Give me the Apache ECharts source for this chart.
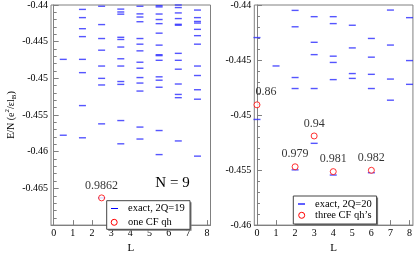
<!DOCTYPE html>
<html><head><meta charset="utf-8">
<script src="https://cdn.jsdelivr.net/npm/echarts@6/dist/echarts.min.js"></script>
<style>html,body{margin:0;padding:0;background:#fff}#c{width:415px;height:259px}</style>
</head><body><div id="c"></div>
<script>
// Left panel: N=9, 2Q=19 (half-integer L)
const L19 = [0.5, 1.5, 2.5, 3.5, 4.5, 5.5, 6.5, 7.5];
const exact19 = [
  [-0.44741, -0.45775],
  [-0.44060, -0.44172, -0.44323, -0.44431, -0.44741, -0.44922, -0.45371, -0.45810],
  [-0.44017, -0.44267, -0.44457, -0.44616, -0.44832, -0.45000, -0.45090, -0.45620, -0.46629],
  [-0.44056, -0.44095, -0.44125, -0.44440, -0.44470, -0.44573, -0.44733, -0.44832, -0.45043, -0.45082, -0.45575, -0.45892],
  [-0.44017, -0.44121, -0.44164, -0.44228, -0.44457, -0.44534, -0.44625, -0.44780, -0.44862, -0.44989, -0.45064, -0.45173, -0.45664, -0.45827],
  [-0.44009, -0.44026, -0.44123, -0.44198, -0.44254, -0.44384, -0.44547, -0.44677, -0.44690, -0.44754, -0.44979, -0.45025, -0.45121, -0.45711, -0.46039],
  [-0.44000, -0.44035, -0.44108, -0.44185, -0.44263, -0.44276, -0.44659, -0.44754, -0.44875, -0.45077, -0.45219, -0.45263, -0.45853],
  [-0.44069, -0.44172, -0.44224, -0.44246, -0.44332, -0.44418, -0.44534, -0.44832, -0.44961, -0.45155, -0.45284, -0.46060]
];
const cfL19 = [2.5];
const cfE19 = [-0.46629];
const cfLabel19 = ['0.9862'];

// Right panel: 2Q=20 (integer L)
const L20 = [0, 1, 2, 3, 4, 5, 6, 7, 8];
const exact20 = [
  [-0.44296, -0.45040],
  [-0.44554],
  [-0.44049, -0.44198, -0.44659, -0.44759, -0.45498],
  [-0.44106, -0.44339, -0.44451, -0.44759, -0.45257],
  [-0.44106, -0.44169, -0.44465, -0.44522, -0.44678, -0.45545],
  [-0.44184, -0.44390, -0.44623, -0.44667],
  [-0.44304, -0.44474, -0.44630, -0.44759, -0.45524],
  [-0.44046, -0.44364, -0.44673, -0.44865],
  [-0.44115, -0.44505, -0.44721]
];
const cfL20 = [0, 2, 3, 4, 6];
const cfE20 = [-0.44907, -0.45470, -0.45190, -0.45514, -0.45502];
const cfLabel20 = ['0.86', '0.979', '0.94', '0.981', '0.982'];

const xTicks = [0, 1, 2, 3, 4, 5, 6, 7, 8];
const yLabelsLeft = [-0.465, -0.46, -0.455, -0.45, -0.445, -0.44];
const yLabelsRight = [-0.46, -0.455, -0.45, -0.445, -0.44];

const FONT = '"Liberation Serif", "DejaVu Serif", serif';
const AX = '#808080';
const BLUE = '#2a2aff';

function xAxis(gi) {
  return {
    type: 'value', gridIndex: gi, min: -0.14, max: 8.18,
    name: 'L', nameLocation: 'middle', nameGap: 9,
    nameTextStyle: {fontFamily: FONT, fontSize: 11, color: '#000'},
    splitLine: {show: false},
    axisLine: {lineStyle: {color: AX}},
    axisTick: {inside: true, length: 5, customValues: xTicks, lineStyle: {color: AX}},
    axisLabel: {customValues: xTicks, fontFamily: FONT, fontSize: 10, color: '#000', margin: 3}
  };
}
function yAxis(gi, min, labels, withName) {
  const a = {
    type: 'value', gridIndex: gi, min: min, max: -0.44, interval: 0.005,
    splitLine: {show: false},
    axisLine: {lineStyle: {color: AX}},
    axisTick: {inside: true, length: 5, lineStyle: {color: AX}},
    minorTick: {show: true, splitNumber: 5, length: 3, lineStyle: {color: AX}},
    axisLabel: {customValues: labels, fontFamily: FONT, fontSize: 10, color: '#000', margin: 3,
      formatter: v => String(parseFloat(Number(v).toFixed(4)))}
  };
  if (withName) {
    a.name = '{n|E/N (e}{sup|2}{n|/εl}{sub|B}{n|)}';
    a.nameLocation = 'middle';
    a.nameGap = 33;
    a.nameRotate = 90;
    a.nameTextStyle = {
      rich: {
        n: {fontFamily: FONT, fontSize: 10, color: '#000', lineHeight: 14, verticalAlign: 'middle'},
        sup: {fontFamily: FONT, fontSize: 7, color: '#000', lineHeight: 14, verticalAlign: 'top', padding: [0, 0, 4, 0]},
        sub: {fontFamily: FONT, fontSize: 7, color: '#000', lineHeight: 14, verticalAlign: 'bottom', padding: [4, 0, 0, 0]}
      }
    };
  }
  return a;
}

const dash = (Ls, cols) => cols.flatMap((col, i) => col.map(e => [Ls[i], e]));
const pts = (Ls, Es, labs) => Ls.map((l, i) => ({value: [l, Es[i]], label: {formatter: labs[i]}}));

const cf20 = pts(cfL20, cfE20, cfLabel20);
cf20[0].label.offset = [9, 0];

const circleStyle = {color: '#ffffff', borderColor: '#ff0000', borderWidth: 1};
const cfLabel = {show: true, position: 'top', distance: 3, fontFamily: FONT, fontSize: 12, color: '#000'};

const chart = echarts.init(document.getElementById('c'), null, {renderer: 'canvas'});
chart.setOption({
  animation: false,
  backgroundColor: '#fff',
  grid: [
    {left: 51, top: 5, width: 159.5, height: 232.3, show: true, borderColor: AX, borderWidth: 1},
    {left: 254.3, top: 5, width: 159, height: 232.3, show: true, borderColor: AX, borderWidth: 1}
  ],
  xAxis: [xAxis(0), xAxis(1)],
  yAxis: [yAxis(0, -0.47, yLabelsLeft, true), yAxis(1, -0.46, yLabelsRight, false)],
  series: [
    {type: 'scatter', xAxisIndex: 0, yAxisIndex: 0, silent: true, symbol: 'rect', symbolSize: [7, 1.4],
      itemStyle: {color: BLUE}, data: dash(L19, exact19), z: 2},
    {type: 'scatter', xAxisIndex: 1, yAxisIndex: 1, silent: true, symbol: 'rect', symbolSize: [7, 1.4],
      itemStyle: {color: BLUE}, data: dash(L20, exact20), z: 2},
    {type: 'scatter', xAxisIndex: 0, yAxisIndex: 0, silent: true, symbol: 'circle', symbolSize: 6,
      itemStyle: circleStyle, label: cfLabel, data: pts(cfL19, cfE19, cfLabel19), z: 3},
    {type: 'scatter', xAxisIndex: 1, yAxisIndex: 1, silent: true, symbol: 'circle', symbolSize: 6,
      itemStyle: circleStyle, label: cfLabel, data: cf20, z: 3}
  ],
  graphic: [
    {type: 'text', x: 172.5, y: 183.5, z: 20, style: {text: 'N = 9', font: '15px ' + FONT, fill: '#000', align: 'center', verticalAlign: 'middle'}},
    // left legend
    {type: 'rect', z: 20, shape: {x: 108.2, y: 202.2, width: 83.3, height: 28.6}, style: {fill: '#777'}},
    {type: 'rect', z: 21, shape: {x: 106.7, y: 200.7, width: 83.3, height: 28.6}, style: {fill: '#fff', stroke: '#444', lineWidth: 1}},
    {type: 'line', z: 22, shape: {x1: 111, y1: 208.5, x2: 118, y2: 208.5}, style: {stroke: '#0000ff', lineWidth: 1}},
    {type: 'text', z: 22, x: 128, y: 208.5, style: {text: 'exact, 2Q=19', font: '10.5px ' + FONT, fill: '#000', verticalAlign: 'middle'}},
    {type: 'circle', z: 22, shape: {cx: 114.2, cy: 222.3, r: 3}, style: {fill: '#fff', stroke: '#ff0000', lineWidth: 1}},
    {type: 'text', z: 22, x: 128, y: 222.3, style: {text: 'one CF qh', font: '10.5px ' + FONT, fill: '#000', verticalAlign: 'middle'}},
    // right legend
    {type: 'rect', z: 20, shape: {x: 294.8, y: 197.5, width: 83.3, height: 28}, style: {fill: '#777'}},
    {type: 'rect', z: 21, shape: {x: 293.3, y: 196, width: 83.3, height: 28}, style: {fill: '#fff', stroke: '#444', lineWidth: 1}},
    {type: 'line', z: 22, shape: {x1: 298, y1: 204, x2: 305, y2: 204}, style: {stroke: '#6060ff', lineWidth: 2}},
    {type: 'text', z: 22, x: 315, y: 204, style: {text: 'exact, 2Q=20', font: '10.5px ' + FONT, fill: '#000', verticalAlign: 'middle'}},
    {type: 'circle', z: 22, shape: {cx: 301.7, cy: 215.3, r: 3}, style: {fill: '#fff', stroke: '#ff0000', lineWidth: 1}},
    {type: 'text', z: 22, x: 315, y: 215.3, style: {text: 'three CF qh\u2019s', font: '10.5px ' + FONT, fill: '#000', verticalAlign: 'middle'}}
  ]
});
</script></body></html>
